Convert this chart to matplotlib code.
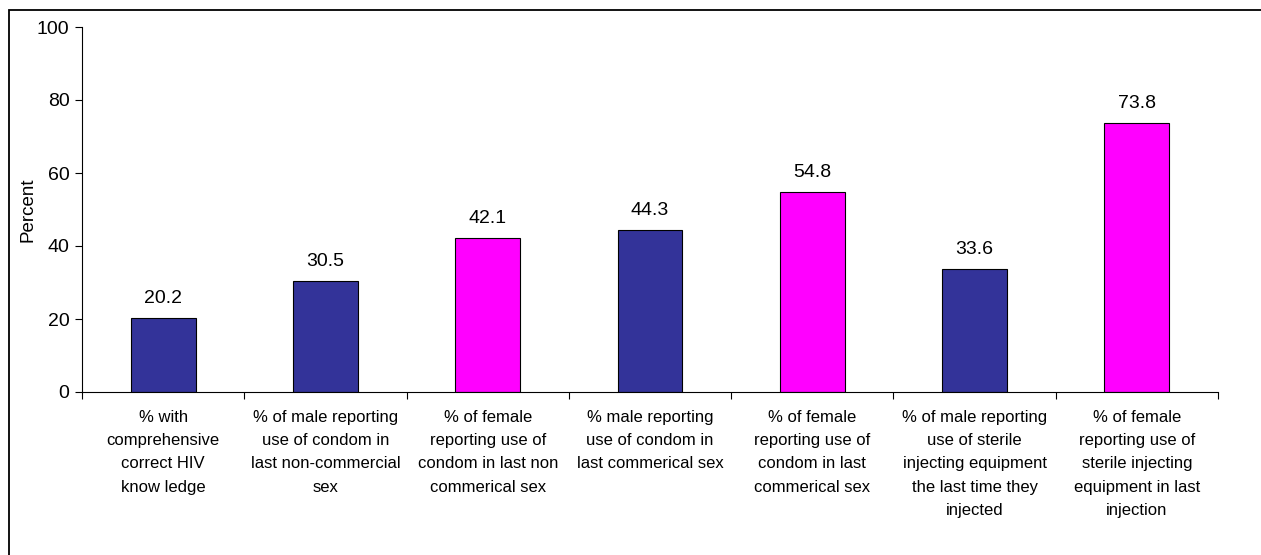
import numpy as np
import matplotlib
matplotlib.use('Agg')
import matplotlib.pyplot as plt
from matplotlib.patches import Rectangle

plt.rcParams['font.family'] = ['Liberation Sans', 'DejaVu Sans']

categories = [
    '% with\ncomprehensive\ncorrect HIV\nknow ledge',
    '% of male reporting\nuse of condom in\nlast non-commercial\nsex',
    '% of female\nreporting use of\ncondom in last non\ncommerical sex',
    '% male reporting\nuse of condom in\nlast commerical sex',
    '% of female\nreporting use of\ncondom in last\ncommerical sex',
    '% of male reporting\nuse of sterile\ninjecting equipment\nthe last time they\ninjected',
    '% of female\nreporting use of\nsterile injecting\nequipment in last\ninjection',
]
values = [20.2, 30.5, 42.1, 44.3, 54.8, 33.6, 73.8]
sex = ['all', 'male', 'female', 'male', 'female', 'male', 'female']
palette = {'all': '#333399', 'male': '#333399', 'female': '#FF00FF'}

fig = plt.figure(figsize=(12.61, 5.55), dpi=100)
# chart area border, cut off at the right and bottom of the image
fig.patches.append(Rectangle((9 / 1261, -0.05), 1.1, 1 - 10 / 555 + 0.05,
                             transform=fig.transFigure, fill=False,
                             edgecolor='black', linewidth=1.3))

ax = fig.add_axes([82 / 1261, 1 - 392 / 555, (1218 - 82) / 1261, (392 - 27) / 555])
x = np.arange(len(values))
bars = ax.bar(x, values, width=0.4, color=[palette[s] for s in sex],
              edgecolor='black', linewidth=0.8)
for xi, v in zip(x, values):
    ax.text(xi, v + 3, f'{v:.1f}', ha='center', va='bottom', fontsize=14)

ax.set_xlim(-0.5, len(values) - 0.5)
ax.set_ylim(0, 100)
ax.set_yticks(range(0, 101, 20))
ax.set_xticks(np.arange(-0.5, len(values), 1.0))
ax.set_xticklabels([])
ax.tick_params(axis='x', length=5, direction='out')
ax.tick_params(axis='y', length=5, labelsize=14, pad=4)
for xi, lab in zip(x, categories):
    ax.text(xi, -4.8, lab, ha='center', va='top', fontsize=12,
            linespacing=1.7, transform=ax.transData)

ax.spines['top'].set_visible(False)
ax.spines['right'].set_visible(False)
ax.set_ylabel('Percent', fontsize=13.5)
ax.yaxis.set_label_coords(-(82 - 37) / (1218 - 82), 0.5)

fig.savefig('out.png', dpi=100)
